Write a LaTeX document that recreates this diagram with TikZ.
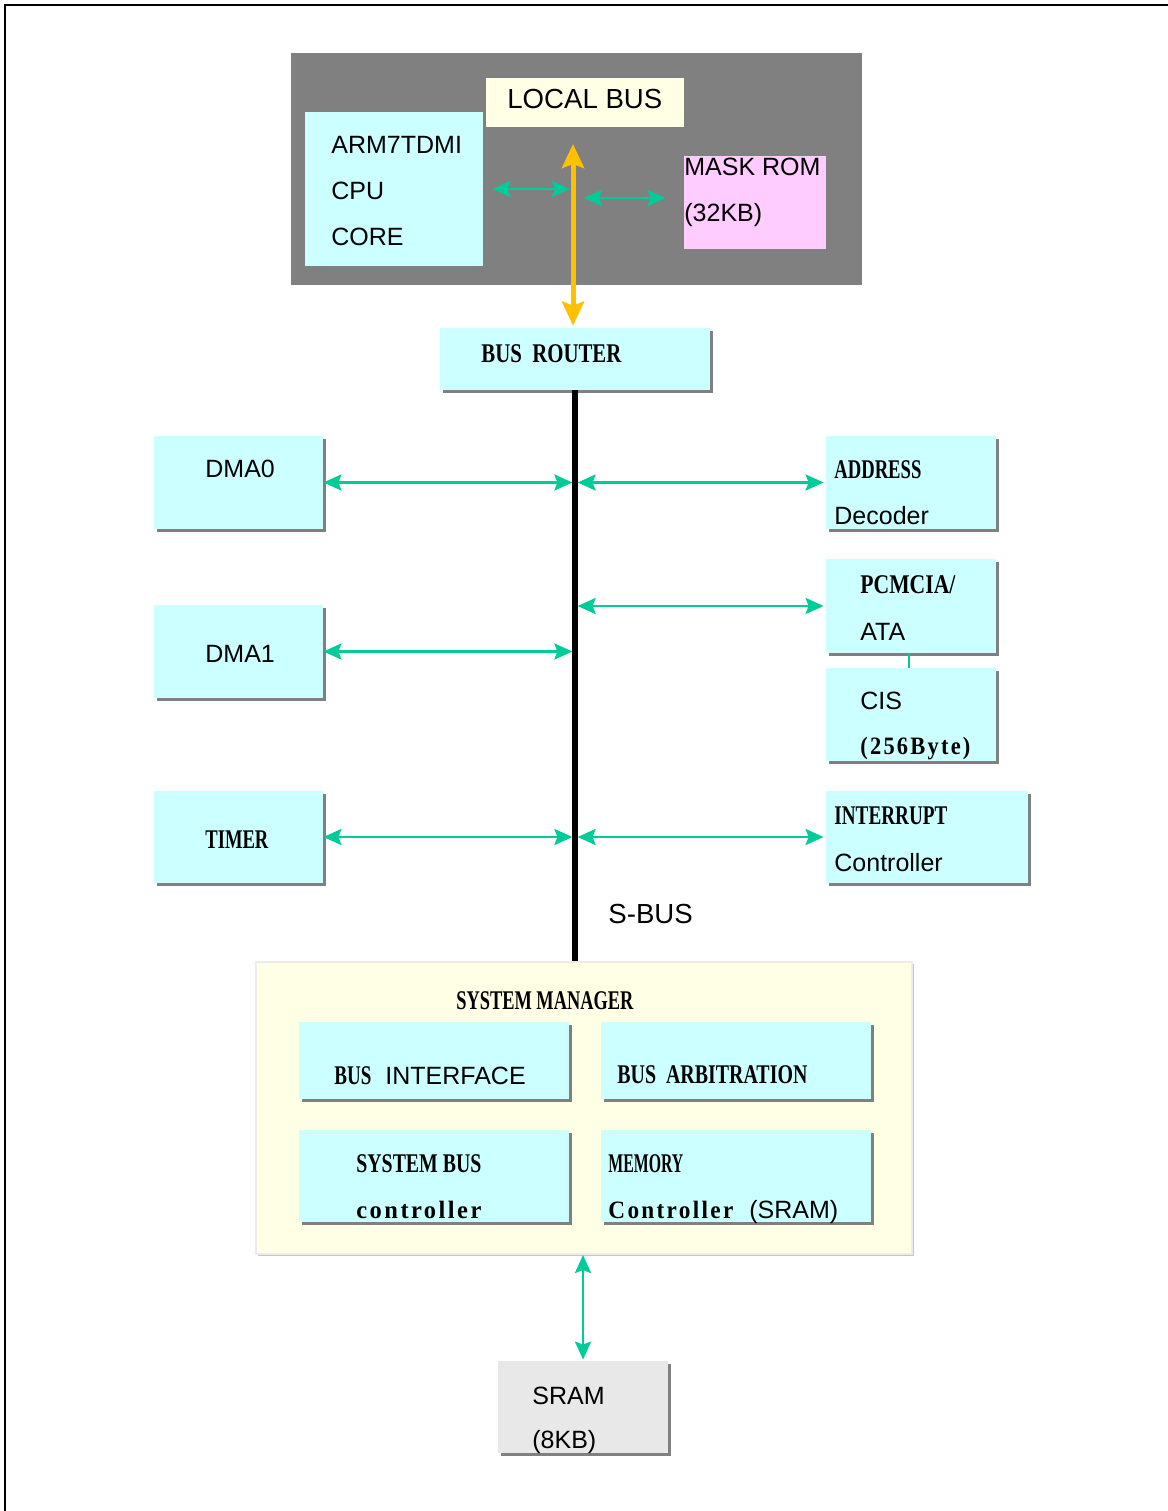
\documentclass[tikz,border=0pt]{standalone}
\usepackage{fontspec}
\setmainfont{Liberation Sans}
\newfontfamily\serifb{Liberation Serif}
\newfontfamily\serifbsp[LetterSpace=10]{Liberation Serif}
\usepackage{graphicx}
\usetikzlibrary{arrows.meta,shadows}
\definecolor{boxcyan}{HTML}{CCFFFF}
\definecolor{boxivory}{HTML}{FFFFE6}
\definecolor{boxpink}{HTML}{FFCCFF}
\definecolor{boxgray}{HTML}{808080}
\definecolor{sramgray}{HTML}{E8E8E8}
\definecolor{busgreen}{HTML}{00CC99}
\definecolor{busyellow}{HTML}{FFC000}
\definecolor{shgray}{HTML}{808080}
\newcommand\cnb[2]{\resizebox{#1}{\height}{\fontsize{13.5}{16}\selectfont\serifb\bfseries #2}}
\newcommand\cnl[2]{\resizebox{#1}{\height}{\fontsize{12.5}{16}\selectfont\serifbsp\bfseries #2}}
\begin{document}
\begin{tikzpicture}[x=0.5pt,y=-0.5pt,
  plain/.style={rectangle, inner sep=0, draw=none},
  sz/.style 2 args={minimum width=#1pt, minimum height=#2pt},
  shbox/.style={plain, fill=boxcyan, drop shadow={shadow xshift=1.5pt, shadow yshift=-1.5pt, fill=shgray, opacity=1}},
  txt/.style={anchor=base west, inner sep=0, font=\fontsize{12.5}{15}\selectfont},
  bigtxt/.style={txt, font=\fontsize{13.8}{16}\selectfont},
  garrow/.style={draw=busgreen, line width=1.3pt, {Stealth[length=9pt,width=8pt,inset=1.5pt]}-{Stealth[length=9pt,width=8pt,inset=1.5pt]}},
  yarrow/.style={draw=busyellow, line width=2.5pt, {Stealth[length=12pt,width=11pt,inset=2pt]}-{Stealth[length=12pt,width=11pt,inset=2pt]}},
  busline/.style={draw=black, line width=2.6pt},
  frameline/.style={draw=black, line width=1.3pt}
]
\useasboundingbox (0,0) rectangle (1168,1511);
% frame (clipped at right and bottom)
\coordinate (fbl) at (5,1511);
\coordinate (ftl) at (5,5);
\coordinate (ftr) at (1168,5);
\draw[frameline] (fbl) -- (ftl) -- (ftr);

% top local bus area
\node[plain, fill=boxgray, sz={285.5}{116}] (core) at (576.5,169) {};
\node[plain, fill=boxivory, sz={99}{24.5}] (lbus) at (585,102.5) {};
\node[plain, fill=boxcyan, sz={89}{77}] (arm) at (394,189) {};
\node[plain, fill=boxpink, sz={71}{46.5}] (rom) at (755,202.5) {};

\node[bigtxt] (tlbus) at (507,108) {LOCAL BUS};
\node[txt] (tarm1) at (331,153) {ARM7TDMI};
\node[txt] (tarm2) at (331,199) {CPU};
\node[txt] (tarm3) at (331,245) {CORE};
\node[txt] (trom1) at (684,175) {MASK ROM};
\node[txt] (trom2) at (684,221) {(32KB)};

% bus router
\node[shbox, sz={135}{31}] (router) at (575,359) {};
\node[txt] (trouter) at (481,362) {\cnb{70pt}{BUS\ \ ROUTER}};

\coordinate (lbtip) at (573,144);
\draw[yarrow, shorten >=1pt] (lbtip) -- (lbtip |- router.north);
\draw[garrow, shorten <=4.5pt, shorten >=1.5pt] (arm.east) -- (arm.east -| lbtip);
\draw[garrow, shorten <=5.5pt, shorten >=9pt] ([yshift=2.25pt]rom.west -| lbtip) -- ([yshift=2.25pt]rom.west);

% peripherals
\node[shbox, sz={84.5}{46.5}] (dma0) at (238.5,482.5) {};
\node[shbox, sz={85}{46.5}] (addr) at (911,482.5) {};
\node[shbox, sz={85}{47}] (pcmcia) at (911,606) {};
\node[shbox, sz={85}{46.5}] (cis) at (911,714.5) {};
\node[shbox, sz={84.5}{46.5}] (dma1) at (238.5,651.5) {};
\node[shbox, sz={84.5}{46}] (timer) at (238.5,837) {};
\node[shbox, sz={101}{46}] (intc) at (927,837) {};

\node[txt] (tdma0) at (205,477) {DMA0};
\node[txt] (taddr1) at (834,478) {\cnb{43.5pt}{ADDRESS}};
\node[txt] (taddr2) at (834,524) {Decoder};
\node[txt] (tpc1) at (860,593) {\cnb{47.5pt}{PCMCIA/}};
\node[txt] (tpc2) at (860,640) {ATA};
\node[txt] (tcis1) at (860,709) {CIS};
\node[txt] (tcis2) at (860,754) {\cnl{55pt}{(256Byte)}};
\node[txt] (tdma1) at (205,662) {DMA1};
\node[txt] (ttimer) at (205,848) {\cnb{31.5pt}{TIMER}};
\node[txt] (tint1) at (834,824) {\cnb{56.5pt}{INTERRUPT}};
\node[txt] (tint2) at (834,871) {Controller};

% system manager
\node[plain, fill=boxivory, draw=gray!15, line width=1pt, sz={328}{146},
      drop shadow={shadow xshift=1.2pt, shadow yshift=-1.2pt, fill=gray!45, opacity=1}] (sysman) at (584,1108) {};
\node[shbox, sz={135}{38.5}] (busif) at (434,1060.5) {};
\node[shbox, sz={135}{38.5}] (busarb) at (736,1060.5) {};
\node[shbox, sz={135}{46}] (sysbus) at (434,1176) {};
\node[shbox, sz={135}{46}] (memctl) at (736,1176) {};

\node[txt] (tsys) at (456,1009) {\cnb{88.5pt}{SYSTEM MANAGER}};
\node[txt] (tbusif) at (334,1084) {\cnb{18.5pt}{BUS}\hspace{7pt}INTERFACE};
\node[txt] (tbusarb) at (617,1083) {\cnb{95pt}{BUS\ \ ARBITRATION}};
\node[txt] (tsb1) at (356,1172) {\cnb{62.5pt}{SYSTEM BUS}};
\node[txt] (tsb2) at (356,1218) {\cnl{62.5pt}{controller}};
\node[txt] (tmem1) at (608,1172) {\cnb{37.5pt}{MEMORY}};
\node[txt] (tmem2) at (608,1218) {\cnl{62.5pt}{Controller}\hspace{8pt}(SRAM)};

% sram
\node[plain, fill=sramgray, sz={85}{46}, drop shadow={shadow xshift=1.5pt, shadow yshift=-1.5pt, fill=shgray, opacity=1}] (sram) at (583,1407) {};
\node[txt] (tsram1) at (532,1404) {SRAM};
\node[txt] (tsram2) at (532,1448) {(8KB)};

% S-BUS
\draw[busline] (router.south) -- (router.south |- sysman.north);
\node[bigtxt] (tsbus) at (608,923) {S-BUS};

\draw[garrow, shorten >=1.3pt] (dma0.east) -- (dma0.east -| router.south);
\draw[garrow, shorten >=1.3pt] (dma1.east) -- (dma1.east -| router.south);
\draw[garrow, shorten >=1.3pt] (timer.east) -- (timer.east -| router.south);
\draw[garrow, shorten <=1.3pt, shorten >=1pt] (addr.west -| router.south) -- (addr.west);
\draw[garrow, shorten <=1.3pt, shorten >=1pt] (pcmcia.west -| router.south) -- (pcmcia.west);
\draw[garrow, shorten <=1.3pt, shorten >=1pt] (intc.west -| router.south) -- (intc.west);
\draw[draw=busgreen, line width=0.8pt] ([xshift=-1pt]pcmcia.south) -- ([xshift=-1pt]cis.north);

\draw[garrow, shorten >=0.5pt] (sram.north |- sysman.south) -- (sram.north);
\end{tikzpicture}
\end{document}
